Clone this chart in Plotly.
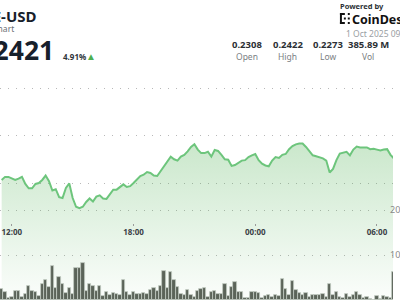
import plotly.graph_objects as go
import pandas as pd

# ---------------- data ----------------
symbol = "DOGE-USD"
subtitle = "Dogecoin Chart"
last_price = "0.2421"
change_pct = "4.91%"
stat_labels = ["Open", "High", "Low", "Vol"]
stat_values = ["0.2308", "0.2422", "0.2273", "385.89 M"]
timestamp_text = "1 Oct 2025 09:05 UTC"

times = pd.date_range("2025-09-30 11:30", periods=117, freq="10min")
price = [
    0.2337, 0.2344, 0.2344, 0.2341, 0.2337, 0.2340, 0.2344, 0.2328, 0.2318, 0.2318,
    0.2328, 0.2330, 0.2337, 0.2347, 0.2334, 0.2313, 0.2316, 0.2298, 0.2296, 0.2319,
    0.2329, 0.2296, 0.2276, 0.2273, 0.2276, 0.2287, 0.2295, 0.2288, 0.2299, 0.2302,
    0.2295, 0.2294, 0.2306, 0.2315, 0.2315, 0.2321, 0.2327, 0.2321, 0.2323, 0.2330,
    0.2339, 0.2346, 0.2349, 0.2355, 0.2353, 0.2347, 0.2346, 0.2357, 0.2369, 0.2378,
    0.2390, 0.2384, 0.2381, 0.2390, 0.2394, 0.2402, 0.2412, 0.2418, 0.2406, 0.2398,
    0.2398, 0.2401, 0.2390, 0.2405, 0.2403, 0.2394, 0.2384, 0.2383, 0.2369, 0.2371,
    0.2377, 0.2381, 0.2382, 0.2389, 0.2393, 0.2396, 0.2382, 0.2374, 0.2370, 0.2368,
    0.2381, 0.2389, 0.2387, 0.2394, 0.2396, 0.2407, 0.2414, 0.2418, 0.2420, 0.2420,
    0.2412, 0.2403, 0.2393, 0.2391, 0.2388, 0.2386, 0.2381, 0.2354, 0.2362, 0.2382,
    0.2397, 0.2399, 0.2401, 0.2393, 0.2406, 0.2413, 0.2411, 0.2411, 0.2411, 0.2407,
    0.2408, 0.2406, 0.2404, 0.2406, 0.2407, 0.2394, 0.2386,
]

vol_times = pd.date_range("2025-09-30 11:30", periods=118, freq="10min")
volume_m = [
    2.44, 1.85, 0.52, 0.74, 2.00, 2.00, 0.74, 1.26, 3.19, 2.00,
    1.85, 0.96, 3.56, 4.44, 2.89, 7.63, 2.59, 5.19, 3.48, 1.48,
    2.74, 1.26, 7.19, 7.04, 8.15, 2.00, 3.48, 3.19, 2.00, 3.19,
    0.81, 1.85, 1.11, 1.48, 1.33, 1.11, 4.44, 1.85, 1.11,
    1.70, 1.26, 1.26, 1.48, 1.26, 2.22, 2.59, 2.00, 3.19, 6.44,
    2.74, 6.15, 4.44, 2.96, 1.26, 1.11, 2.22, 1.11, 0.74, 2.00,
    2.44, 2.74, 0.74, 1.70, 2.00, 1.26, 1.26, 3.48, 0.96, 2.96,
    4.07, 1.70, 1.70, 0.52, 0.37, 1.70, 1.85, 1.48, 0.52,
    0.89, 1.11, 0.74, 1.04, 0.89, 4.67, 2.44, 1.11, 4.30, 2.22,
    1.48, 1.11, 1.63, 0.59, 1.11, 1.11, 1.11, 1.33, 0.74, 3.56,
    1.11, 1.70, 0.74, 0.37, 1.33, 0.74, 1.11, 1.70, 1.11, 0.37,
    0.59, 0.15, 0.05, 0.96, 0.15, 0.89, 0.74, 0.52, 6.30, 5.19,
]

price_grid = [0.2545, 0.2437, 0.2329]
volume_grid = [10, 20]
x_range = ["2025-09-30 11:25:05", "2025-10-01 06:47:20"]
price_range = [0.206418, 0.2746]
volume_range = [0, 66.667]

# ---------------- figure ----------------
W, H = 400, 300
FONT = "Noto Sans"
GREEN = "#6dc57c"


def px(x):
    return x / W


def py(y):
    return 1 - y / H


fig = go.Figure()

fig.add_trace(go.Scatter(
    x=times, y=price, mode="lines", yaxis="y",
    line=dict(color=GREEN, width=2),
    fill="tozeroy",
    fillgradient=dict(
        type="vertical",
        colorscale=[[0, "rgba(76,175,80,0.02)"], [1, "rgba(76,175,80,0.30)"]],
        start=0.2064, stop=0.2430,
    ),
    hoverinfo="skip", showlegend=False,
))

fig.add_trace(go.Bar(
    x=vol_times, y=volume_m, yaxis="y2",
    width=10 * 60 * 1000,
    marker=dict(color="#5b6459", line=dict(color="#c2cbc2", width=0.8)),
    hoverinfo="skip", showlegend=False,
))

grid = dict(showgrid=True, gridcolor="#b8b8b8", griddash="1px,7px", gridwidth=1,
            zeroline=False, showline=False)

fig.update_layout(
    width=W, height=H,
    margin=dict(l=0, r=0, t=0, b=0),
    paper_bgcolor="white", plot_bgcolor="white",
    bargap=0,
    font=dict(family=FONT),
    xaxis=dict(
        domain=[0, 1], range=x_range, type="date",
        anchor="free", position=py(222.5),
        showgrid=False, zeroline=False, showline=False,
        ticks="outside", ticklen=2, tickcolor="#9a9a9a",
        dtick=6 * 3600 * 1000, tick0="2025-09-30 00:00", tickformat="%H:%M",
        tickfont=dict(size=8, color="#3b4046", weight="bold", family=FONT),
    ),
    yaxis=dict(
        domain=[0, 1], range=price_range, anchor="free", position=1,
        tickvals=price_grid, showticklabels=False, ticks="", **grid,
    ),
    yaxis2=dict(
        overlaying="y", range=volume_range, side="right",
        anchor="free", position=0.99,
        tickvals=volume_grid, ticksuffix="M", ticks="",
        tickfont=dict(size=9, color="#8a8a8a", family=FONT), **grid,
    ),
)

ann = []


def text(x, y, t, size, color, anchor="left", bold=False):
    ann.append(dict(
        x=px(x), y=py(y), xref="paper", yref="paper", text=t, showarrow=False,
        xanchor=anchor, yanchor="middle",
        font=dict(size=size, color=color, family=FONT, weight="bold" if bold else "normal"),
    ))


# left header
text(40, 16, symbol, 15, "#17202b", "right", True)
text(16, 28, subtitle, 8.5, "#6b6f75", "right")
text(57, 50, last_price, 26.5, "#17202b", "right", True)
text(62, 56.5, change_pct, 8, "#2f343a", "left", True)
text(86, 55.5, "▲", 10, "#4caf50", "left")

# right header
text(344, 6, "Powered by", 7.5, "#2b2f34", "left", True)
text(356.5, 19, "CoinDesk", 12.5, "#111111", "left", True)
text(350, 34, timestamp_text, 8.5, "#9a9ea3", "left")

stat_x = [251, 293, 333.5, 375]
for sx, v, lab in zip(stat_x, stat_values, stat_labels):
    text(sx, 44.5, v, 9.5, "#2b2f34", "center", True)
    text(sx, 56.5, lab, 8.5, "#7a7e83", "center")

fig.update_layout(annotations=ann)

# CoinDesk logo mark
shapes = []
def rect(x0, y0, x1, y1):
    shapes.append(dict(type="rect", xref="paper", yref="paper",
                       x0=px(x0), x1=px(x1), y0=py(y1), y1=py(y0),
                       fillcolor="#111111", line=dict(width=0)))

rect(346, 13, 348, 24)
rect(346, 13, 351, 15)
rect(346, 22, 351, 24)
rect(350, 17.5, 352, 19.5)
rect(354, 13, 356, 15)
rect(354, 17.5, 356, 19.5)
rect(354, 22, 356, 24)
fig.update_layout(shapes=shapes)

fig.write_html("out.html")
